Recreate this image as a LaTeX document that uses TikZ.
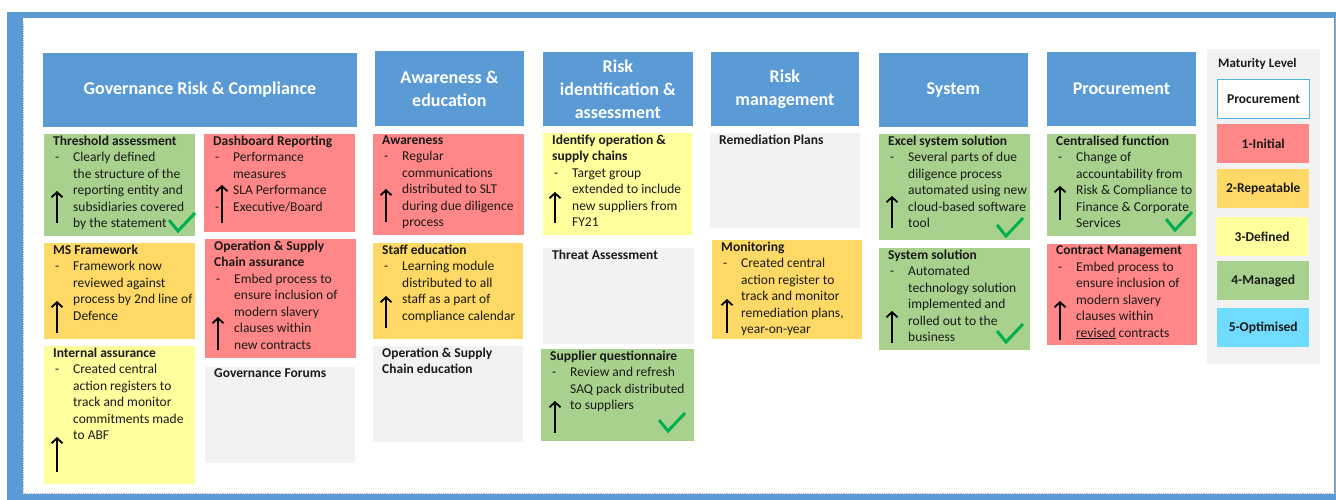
\documentclass[tikz,border=0pt]{standalone}
\usepackage{fontspec}
\setmainfont{Carlito}
\usetikzlibrary{arrows.meta}

\definecolor{hdrblue}{HTML}{5B9BD5}
\definecolor{lvlred}{HTML}{FF8787}
\definecolor{lvlorange}{HTML}{FFD966}
\definecolor{lvlyellow}{HTML}{FFFF9E}
\definecolor{lvlgreen}{HTML}{A9D18E}
\definecolor{lvlcyan}{HTML}{6FDBFF}
\definecolor{lvlgray}{HTML}{F2F2F2}
\definecolor{legendedge}{HTML}{4DB3E6}
\definecolor{tickgreen}{HTML}{00B050}
\definecolor{bodyink}{HTML}{1A1A1A}

% card: name, fill, x, y, width, height, text
\newcommand\card[7]{%
  \node[cardbox, fill=#2, minimum width=#5pt, minimum height=#6pt] (#1) at (#3,#4) {};
  \node[cardtext] (#1-txt) at ([xshift=10pt,yshift=-2.5pt]#1.north west) {#7};
}
% header: name, x, y, width, height, text
\newcommand\header[6]{%
  \node[hdrbox, minimum width=#4pt, minimum height=#5pt] (#1) at (#2,#3) {#6};
}
% bullet line and its continuation lines
\newcommand\bul[1]{\makebox[20pt][l]{\hspace{2pt}-}#1}
\newcommand\cnt[1]{\makebox[20pt][l]{}#1}
% progress arrow: x, bottom y, top y
\newcommand\uparrowmark[3]{\draw[progress] (#1,#2) -- (#1,#3);}
% green tick: left end x, y
\newcommand\tickmark[2]{\draw[donetick] (#1,#2) -- ++(9,11) -- ++(17,-18);}

\begin{document}
\begin{tikzpicture}[x=1pt,y=-1pt,
  cardbox/.style={draw=white, line width=0.8pt, anchor=north west, inner sep=0pt},
  cardtext/.style={anchor=north west, inner sep=0pt, align=left, text=bodyink,
    font=\fontsize{13.5}{16.5}\selectfont},
  hdrbox/.style={fill=hdrblue, draw=white, line width=0.8pt, anchor=north west, inner sep=0pt,
    align=center, text=white, font=\bfseries\fontsize{18}{23}\selectfont},
  lvlbox/.style={minimum width=92pt, minimum height=39pt, anchor=north west, inner sep=0pt,
    font=\bfseries\fontsize{13.5}{16}\selectfont, text=bodyink},
  progress/.style={line width=1.8pt, -{Straight Barb[length=5pt,width=11pt]}},
  donetick/.style={line width=3pt, tickgreen, line join=miter}
]
\useasboundingbox (0,0) rectangle (1336,500);

% slide frame
\fill[hdrblue] (7,12) rectangle (1336,500);
\fill[white] (23,18) rectangle (1334,494);
\draw[gray!55, densely dotted, line width=0.8pt] (23,22) -- (23,493) -- (1334,493);
\draw[gray!70, line width=0.8pt] (1335,17) -- (1335,494);

% column headers
\header{hgrc}{42}{52}{315}{75}{Governance Risk \& Compliance}
\header{hawe}{374}{50}{150}{76}{Awareness \&\\education}
\header{hrid}{542}{51}{151}{75}{Risk\\identification \&\\assessment}
\header{hrmg}{710}{51}{149}{75}{Risk\\management}
\header{hsys}{878}{52}{150}{75}{System}
\header{hpro}{1046}{51}{150}{75}{Procurement}

% Governance Risk & Compliance
\card{thr}{lvlgreen}{43}{133}{152}{103}{\textbf{Threshold assessment}\\
  \bul{Clearly defined}\\ \cnt{the structure of the}\\ \cnt{reporting entity and}\\
  \cnt{subsidiaries covered}\\ \cnt{by the statement}}
\card{dsh}{lvlred}{203}{133}{152}{99}{\textbf{Dashboard Reporting}\\
  \bul{Performance}\\ \cnt{measures}\\ \bul{SLA Performance}\\ \bul{Executive/Board}}
\card{msf}{lvlorange}{43}{242}{152}{97}{\textbf{MS Framework}\\
  \bul{Framework now}\\ \cnt{reviewed against}\\ \cnt{process by 2nd line of}\\ \cnt{Defence}}
\card{osca}{lvlred}{204}{238}{152}{120}{\textbf{Operation \& Supply}\\ \textbf{Chain assurance}\\
  \bul{Embed process to}\\ \cnt{ensure inclusion of}\\ \cnt{modern slavery}\\
  \cnt{clauses within}\\ \cnt{new contracts}}
\card{ias}{lvlyellow}{43}{345}{152}{139}{\textbf{Internal assurance}\\
  \bul{Created central}\\ \cnt{action registers to}\\ \cnt{track and monitor}\\
  \cnt{commitments made}\\ \cnt{to ABF}}
\card{gfo}{lvlgray}{204}{366}{151}{97}{\textbf{Governance Forums}}

% Awareness & education
\card{awr}{lvlred}{372}{133}{152}{102}{\textbf{Awareness}\\
  \bul{Regular}\\ \cnt{communications}\\ \cnt{distributed to SLT}\\
  \cnt{during due diligence}\\ \cnt{process}}
\card{sed}{lvlorange}{372}{242}{151}{97}{\textbf{Staff education}\\
  \bul{Learning module}\\ \cnt{distributed to all}\\ \cnt{staff as a part of}\\
  \cnt{compliance calendar}}
\card{osce}{lvlgray}{372}{345}{151}{97}{\textbf{Operation \& Supply}\\ \textbf{Chain education}}

% Risk identification & assessment
\card{ios}{lvlyellow}{542}{132}{150}{103}{\textbf{Identify operation \&}\\ \textbf{supply chains}\\
  \bul{Target group}\\ \cnt{extended to include}\\ \cnt{new suppliers from}\\ \cnt{FY21}}
\card{tas}{lvlgray}{542}{247}{152}{97}{\textbf{Threat Assessment}}
\card{sqn}{lvlgreen}{540}{348}{154}{93}{\textbf{Supplier questionnaire}\\
  \bul{Review and refresh}\\ \cnt{SAQ pack distributed}\\ \cnt{to suppliers}}

% Risk management
\card{rpl}{lvlgray}{709}{132}{151}{96}{\textbf{Remediation Plans}}
\card{mon}{lvlorange}{711}{239}{151}{100}{\textbf{Monitoring}\\
  \bul{Created central}\\ \cnt{action register to}\\ \cnt{track and monitor}\\
  \cnt{remediation plans,}\\ \cnt{year-on-year}}

% System
\card{ess}{lvlgreen}{878}{133}{152}{107}{\textbf{Excel system solution}\\
  \bul{Several parts of due}\\ \cnt{diligence process}\\ \cnt{automated using new}\\
  \cnt{cloud-based software}\\ \cnt{tool}}
\card{ssl}{lvlgreen}{878}{247}{152}{103}{\textbf{System solution}\\
  \bul{Automated}\\ \cnt{technology solution}\\ \cnt{implemented and}\\
  \cnt{rolled out to the}\\ \cnt{business}}

% Procurement
\card{cfn}{lvlgreen}{1046}{133}{150}{103}{\textbf{Centralised function}\\
  \bul{Change of}\\ \cnt{accountability from}\\ \cnt{Risk \& Compliance to}\\
  \cnt{Finance \& Corporate}\\ \cnt{Services}}
\card{cmg}{lvlred}{1046}{243}{151}{102}{\textbf{Contract Management}\\
  \bul{Embed process to}\\ \cnt{ensure inclusion of}\\ \cnt{modern slavery}\\
  \cnt{clauses within}\\ \cnt{\underline{revised} contracts}}

% progress arrows
\uparrowmark{57}{223}{191}
\uparrowmark{222}{223}{185}
\uparrowmark{57}{333}{301}
\uparrowmark{218}{350}{317}
\uparrowmark{57}{472}{437}
\uparrowmark{386}{222}{189}
\uparrowmark{386}{328}{296}
\uparrowmark{555}{223}{192}
\uparrowmark{555}{433}{401}
\uparrowmark{727}{333}{299}
\uparrowmark{892}{228}{196}
\uparrowmark{892}{343}{311}
\uparrowmark{1060}{220}{186}
\uparrowmark{1060}{340}{301}

% completion ticks
\tickmark{169}{220}
\tickmark{659}{420}
\tickmark{997}{225}
\tickmark{997}{331}
\tickmark{1166}{219}

% maturity legend
\node[fill=lvlgray, minimum width=113pt, minimum height=315pt, anchor=north west, inner sep=0pt] (legend) at (1207,49) {};
\node[anchor=west, inner sep=0pt, font=\bfseries\fontsize{13}{16}\selectfont, text=bodyink] (legend-title) at (1218,64) {Maturity Level};
\node[lvlbox, fill=white, draw=legendedge, line width=1.2pt] (lv0) at (1217,79) {Procurement};
\node[lvlbox, fill=lvlred] (lv1) at (1217,124) {1-Initial};
\node[lvlbox, fill=lvlorange] (lv2) at (1217,169) {2-Repeatable};
\node[lvlbox, fill=lvlyellow] (lv3) at (1216,217) {3-Defined};
\node[lvlbox, fill=lvlgreen] (lv4) at (1217,261) {4-Managed};
\node[lvlbox, fill=lvlcyan] (lv5) at (1217,308) {5-Optimised};
\end{tikzpicture}
\end{document}
